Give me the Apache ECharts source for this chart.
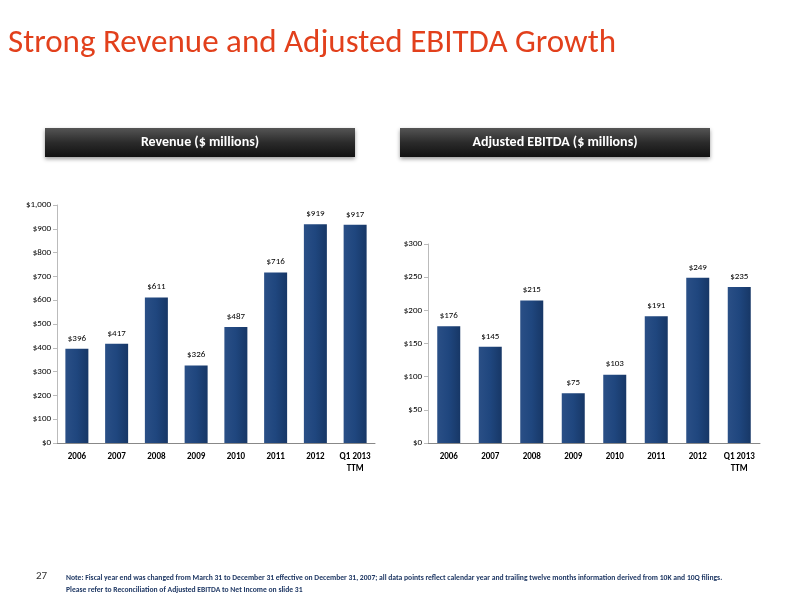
<!DOCTYPE html>
<html><head><meta charset="utf-8">
<script src="https://cdn.jsdelivr.net/npm/echarts@6/dist/echarts.min.js"></script>
<style>html,body{margin:0;padding:0;background:#fff}#c{width:800px;height:600px}</style>
</head><body><div id="c"></div>
<script>
const categories = ['2006','2007','2008','2009','2010','2011','2012','Q1 2013\nTTM'];
const revenue = [396,417,611,326,487,716,919,917];
const ebitda = [176,145,215,75,103,191,249,235];
const font = 'Calibri, "Liberation Sans", "Open Sans", sans-serif';
const barColor = new echarts.graphic.LinearGradient(0,0,1,0,[{offset:0,color:'#2a4f86'},{offset:0.5,color:'#1f467e'},{offset:1,color:'#173766'}]);
function xAx(i){return {type:'category',gridIndex:i,data:categories,axisTick:{show:false},axisLine:{lineStyle:{color:'#888'}},axisLabel:{interval:0,fontSize:9,fontWeight:'bold',color:'#000',fontFamily:font,lineHeight:12,margin:8}};}
function yAx(i,max,interval){return {type:'value',gridIndex:i,min:0,max:max,interval:interval,axisLine:{show:true,lineStyle:{color:'#bbb'}},axisTick:{show:true,length:4,lineStyle:{color:'#bbb'}},splitLine:{show:false},axisLabel:{fontSize:9,color:'#000',fontFamily:font,margin:6,formatter:v=>'$'+(v>=1000?v.toLocaleString('en-US'):v)}};}
function ser(i,d){return {type:'bar',xAxisIndex:i,yAxisIndex:i,data:d,barWidth:23,itemStyle:{color:barColor},label:{show:true,position:'top',distance:6,fontSize:9,color:'#000',fontFamily:font,formatter:p=>'$'+p.value}};}
function header(x,text){return [{type:'rect',shape:{x:x,y:128,width:310,height:29},style:{fill:new echarts.graphic.LinearGradient(0,0,0,1,[{offset:0,color:'#555'},{offset:0.5,color:'#2b2b2b'},{offset:1,color:'#111'}]),shadowBlur:4,shadowColor:'rgba(0,0,0,0.4)',shadowOffsetY:2}},
{type:'text',x:x+155,y:142.5,style:{text:text,fill:'#fff',font:'bold 14px '+font,textAlign:'center',textVerticalAlign:'middle'}}];}
const chart = echarts.init(document.getElementById('c'));
chart.setOption({
 animation:false,
 graphic:[
  {type:'text',left:8,top:27,style:{text:'Strong Revenue and Adjusted EBITDA Growth',fill:'#e2401c',font:'33px '+font}},
  ...header(45,'Revenue ($ millions)'),
  ...header(400,'Adjusted EBITDA ($ millions)'),
  {type:'text',x:36,y:571,style:{text:'27',fill:'#333',font:'11px '+font}},
  {type:'text',x:66,y:572,style:{text:'Note: Fiscal year end was changed from March 31 to December 31 effective on December 31, 2007; all data points reflect calendar year and trailing twelve months information derived from 10K and 10Q filings.\nPlease refer to Reconciliation of Adjusted EBITDA to Net Income on slide 31',fill:'#1f3864',font:'bold 7.6px '+font,lineHeight:12}}
 ],
 grid:[{left:57,top:205,width:318,height:238},{left:428,top:244,width:332,height:199}],
 xAxis:[xAx(0),xAx(1)],
 yAxis:[yAx(0,1000,100),yAx(1,300,50)],
 series:[ser(0,revenue),ser(1,ebitda)]
});
</script></body></html>
